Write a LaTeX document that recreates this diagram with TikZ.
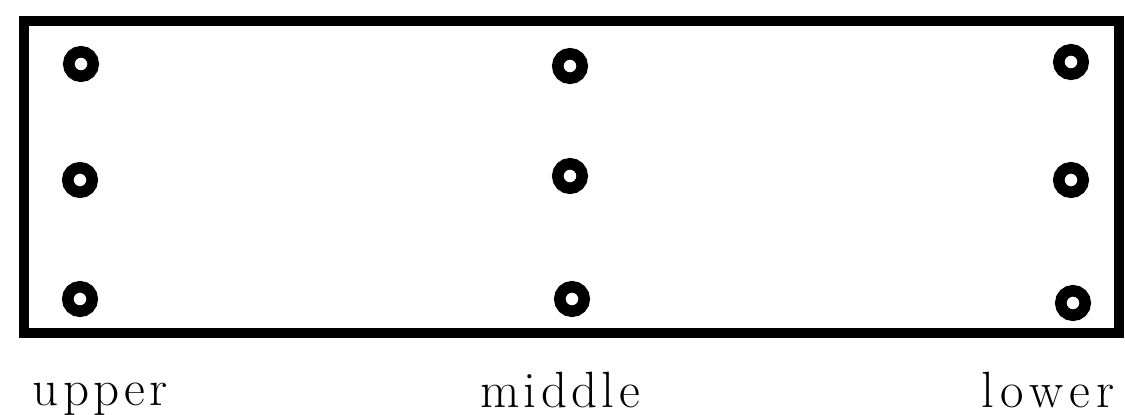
\documentclass[tikz,border=0pt]{standalone}
\newcommand{\lsp}{\kern2.2pt}
\begin{document}
\begin{tikzpicture}[x=0.5pt,y=-0.5pt,
  ring/.style={circle,draw=black,line width=5.75pt,minimum size=12.25pt,inner sep=0pt},
  frame/.style={draw=black,line width=5pt},
  lab/.style={anchor=base,inner sep=0pt,font=\fontsize{25.5}{30}\selectfont}]
\useasboundingbox (0,0) rectangle (1125,414);
\coordinate (tl) at (24,21);
\coordinate (br) at (1119,333);
\draw[frame] (tl) rectangle (br);
\node[ring] (a1) at (81,64) {};
\node[ring] (a2) at (80,180) {};
\node[ring] (a3) at (80,299) {};
\node[ring] (b1) at (570,66) {};
\node[ring] (b2) at (570,176) {};
\node[ring] (b3) at (572,299) {};
\node[ring] (c1) at (1071,62) {};
\node[ring] (c2) at (1071,180) {};
\node[ring] (c3) at (1073,303) {};
\node[lab] (lu) at (100,405) {u\lsp p\lsp p\lsp e\lsp r};
\node[lab] (lm) at (560,407) {m\lsp i\lsp d\lsp d\lsp l\lsp e};
\node[lab] (ll) at (1048,407) {l\kern3pt o\kern3pt w\kern3pt e\kern3pt r};
\end{tikzpicture}
\end{document}
